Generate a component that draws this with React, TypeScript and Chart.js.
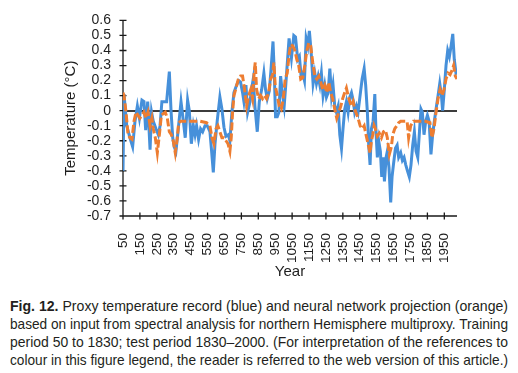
import React, { useEffect, useLayoutEffect, useRef } from 'react';
import { Chart, registerables } from 'chart.js';

Chart.register(...registerables);

const BLUE_YEARS = [50, 56, 72, 91, 107, 121, 135, 147, 162, 174, 184, 196, 210, 219, 229, 245, 259, 269, 280, 296, 308, 324, 334, 344, 353, 363, 377, 393, 407, 418, 432, 442, 454, 466, 476, 485, 497, 509, 521, 535, 548, 564, 574, 584, 594, 607, 623, 635, 647, 659, 673, 682, 694, 706, 722, 734, 745, 757, 765, 777, 787, 801, 810, 820, 830, 844, 856, 870, 883, 893, 903, 915, 925, 937, 944, 952, 962, 972, 982, 994, 1003, 1013, 1032, 1046, 1060, 1070, 1083, 1093, 1103, 1113, 1123, 1133, 1143, 1152, 1162, 1174, 1184, 1194, 1204, 1214, 1223, 1233, 1243, 1253, 1263, 1273, 1283, 1292, 1302, 1312, 1322, 1332, 1342, 1351, 1361, 1371, 1381, 1391, 1401, 1411, 1420, 1430, 1440, 1454, 1464, 1476, 1485, 1495, 1503, 1511, 1519, 1529, 1539, 1546, 1554, 1562, 1572, 1580, 1588, 1596, 1606, 1613, 1623, 1633, 1641, 1649, 1661, 1671, 1680, 1692, 1702, 1712, 1722, 1732, 1743, 1753, 1763, 1773, 1783, 1793, 1803, 1812, 1820, 1830, 1840, 1850, 1860, 1871, 1881, 1891, 1901, 1913, 1923, 1933, 1940, 1950, 1960, 1970, 1980, 1990, 2000, 2009, 2019, 2025];
const BLUE_TEMPS = [-0.4, 0.11, -0.1, -0.18, -0.24, -0.07, 0.03, -0.05, 0.07, 0.06, -0.13, 0.06, -0.26, -0.01, -0.07, -0.12, -0.16, -0.1, 0.06, 0.06, 0.06, 0.26, 0, -0.18, -0.24, -0.27, -0.12, 0.06, -0.07, -0.18, 0.07, 0, -0.22, -0.1, -0.16, -0.1, -0.19, -0.12, -0.14, -0.1, -0.1, -0.14, -0.27, -0.41, -0.22, -0.07, 0.09, 0.01, -0.11, -0.17, -0.16, -0.2, -0.01, 0.12, 0.17, 0.2, 0.19, 0.12, 0.06, 0.17, -0.01, 0.06, 0.14, 0.21, 0.03, -0.14, 0.06, 0.14, 0.25, 0.14, 0.08, 0.13, 0.27, 0.46, 0.27, -0.04, -0.04, -0.01, 0.23, 0.1, 0.03, 0.18, 0.48, 0.35, 0.5, 0.49, 0.34, 0.36, 0.23, 0.25, 0.2, 0.48, 0.43, 0.53, 0.4, 0.18, 0.25, 0.18, 0.23, 0.17, 0.25, 0.1, 0.17, 0.09, 0.12, 0.28, 0.1, 0.17, 0.03, -0.01, 0.03, -0.16, -0.25, -0.12, 0.01, 0.06, -0.01, 0.09, 0.12, 0.07, -0.01, 0.03, -0.01, 0.12, 0.21, 0.28, 0.17, -0.01, -0.23, -0.36, -0.12, -0.07, 0.11, -0.14, -0.31, -0.2, -0.27, -0.44, -0.31, -0.47, -0.31, -0.27, -0.38, -0.61, -0.44, -0.36, -0.25, -0.23, -0.31, -0.28, -0.33, -0.31, -0.36, -0.4, -0.44, -0.36, -0.23, -0.14, -0.27, -0.31, -0.14, 0.01, -0.01, -0.16, -0.07, -0.03, -0.07, -0.29, -0.16, -0.07, 0.01, 0.1, 0.18, 0.1, 0, 0.14, 0.3, 0.4, 0.36, 0.43, 0.51, 0.34, 0.25, 0.26];

const ORANGE_YEARS = [50, 56, 68, 80, 91, 103, 115, 127, 139, 150, 162, 174, 186, 198, 210, 221, 229, 241, 253, 265, 277, 288, 300, 312, 324, 336, 347, 359, 371, 379, 391, 426, 466, 505, 544, 564, 576, 588, 600, 611, 623, 635, 647, 659, 671, 682, 690, 698, 706, 718, 732, 745, 757, 769, 781, 793, 805, 816, 826, 832, 840, 852, 864, 875, 887, 899, 911, 923, 935, 942, 950, 962, 974, 986, 998, 1009, 1021, 1033, 1042, 1054, 1066, 1078, 1089, 1101, 1113, 1125, 1137, 1148, 1160, 1172, 1184, 1196, 1208, 1219, 1231, 1243, 1255, 1267, 1278, 1290, 1302, 1314, 1326, 1338, 1349, 1361, 1371, 1381, 1391, 1401, 1411, 1420, 1430, 1440, 1452, 1464, 1476, 1487, 1499, 1511, 1519, 1527, 1535, 1542, 1554, 1566, 1578, 1590, 1602, 1613, 1625, 1637, 1645, 1657, 1669, 1680, 1692, 1730, 1739, 1751, 1767, 1838, 1865, 1877, 1889, 1901, 1913, 1925, 1937, 1948, 1960, 1972, 1984, 1996, 2005, 2015, 2025];
const ORANGE_TEMPS = [0.12, 0.1, -0.01, -0.16, -0.18, -0.19, -0.07, -0.01, -0.03, -0.05, -0.03, -0.01, -0.05, -0.01, -0.1, -0.05, -0.12, -0.18, -0.28, -0.16, -0.03, -0.02, -0.01, -0.05, -0.14, -0.16, -0.2, -0.28, -0.18, -0.08, -0.07, -0.07, -0.07, -0.07, -0.08, -0.1, -0.18, -0.22, -0.12, -0.1, -0.14, -0.18, -0.18, -0.2, -0.22, -0.27, -0.18, -0.01, 0.1, 0.15, 0.21, 0.23, 0.23, 0.14, 0.03, 0.1, 0.14, 0.08, 0.26, 0.32, 0.14, 0.08, 0.1, 0.08, 0.1, 0.08, 0.12, 0.21, 0.24, 0.32, 0.17, 0.1, 0.03, 0.01, 0.08, 0.21, 0.25, 0.38, 0.44, 0.43, 0.4, 0.34, 0.3, 0.21, 0.22, 0.3, 0.4, 0.45, 0.43, 0.32, 0.23, 0.21, 0.23, 0.19, 0.14, 0.17, 0.12, 0.19, 0.12, 0.08, 0.01, -0.05, -0.01, 0.03, 0.08, 0.12, 0.15, 0.1, 0.06, 0.03, 0.06, 0.01, -0.02, -0.05, -0.1, -0.12, -0.1, -0.16, -0.22, -0.28, -0.2, -0.16, -0.1, -0.12, -0.17, -0.15, -0.18, -0.14, -0.13, -0.18, -0.29, -0.24, -0.16, -0.12, -0.1, -0.08, -0.07, -0.07, -0.18, -0.1, -0.07, -0.07, -0.08, -0.18, -0.12, -0.01, 0.08, 0.14, 0.1, 0.14, 0.21, 0.25, 0.24, 0.27, 0.3, 0.23, 0.21];

const X_TICKS = [50, 150, 250, 350, 450, 550, 650, 750, 850, 950, 1050, 1150, 1250, 1350, 1450, 1550, 1650, 1750, 1850, 1950];
const Y_TICKS = [0.6, 0.5, 0.4, 0.3, 0.2, 0.1, 0, -0.1, -0.2, -0.3, -0.4, -0.5, -0.6, -0.7];
const X_MIN = 50;
const X_MAX = 2025;
const Y_MIN = -0.7;
const Y_MAX = 0.6;

const X_TITLE = 'Year';
const Y_TITLE = 'Temperature (°C)';
const CAPTION_BOLD = 'Fig. 12.';
const CAPTION_LINES = [
  ' Proxy temperature record (blue) and neural network projection (orange)',
  'based on input from spectral analysis for northern Hemisphere multiproxy. Training',
  'period 50 to 1830; test period 1830–2000. (For interpretation of the references to',
  'colour in this figure legend, the reader is referred to the web version of this article.)',
];

const BLUE = '#4690DA';
const ORANGE = '#ED7D31';
const TEXT = '#1e1e1e';
const FONT = '"Liberation Sans", Arial, sans-serif';

const axesPlugin = {
  id: 'crossAxes',
  beforeDatasetsDraw(chart: any) {
    const { ctx, chartArea, scales } = chart;
    const x = scales.x;
    const y = scales.y;
    ctx.save();
    ctx.strokeStyle = '#1a1a1a';
    ctx.lineWidth = 1.3;
    ctx.beginPath();
    ctx.moveTo(chartArea.left, chartArea.top);
    ctx.lineTo(chartArea.left, chartArea.bottom);
    ctx.moveTo(chartArea.left, chartArea.bottom);
    ctx.lineTo(chartArea.right, chartArea.bottom);
    y.ticks.forEach((t: any) => {
      const py = y.getPixelForValue(t.value);
      ctx.moveTo(chartArea.left - 3.5, py);
      ctx.lineTo(chartArea.left + 3.5, py);
    });
    x.ticks.forEach((t: any) => {
      const px = x.getPixelForValue(t.value);
      ctx.moveTo(px, chartArea.bottom - 3.5);
      ctx.lineTo(px, chartArea.bottom + 3.5);
    });
    ctx.stroke();
    ctx.restore();
  },
};

function TempChart() {
  const ref = useRef<HTMLCanvasElement | null>(null);
  useEffect(() => {
    if (!ref.current) return;
    const chart = new Chart(ref.current, {
      type: 'line',
      data: {
        datasets: [
          {
            label: 'Proxy',
            data: BLUE_YEARS.map((yr, i) => ({ x: yr, y: BLUE_TEMPS[i] })),
            borderColor: BLUE,
            backgroundColor: BLUE,
            borderWidth: 3,
            pointRadius: 0,
            tension: 0,
            fill: false,
            order: 2,
          },
          {
            label: 'Projection',
            data: ORANGE_YEARS.map((yr, i) => ({ x: yr, y: ORANGE_TEMPS[i] })),
            borderColor: ORANGE,
            backgroundColor: ORANGE,
            borderWidth: 3,
            borderDash: [8, 3],
            pointRadius: 0,
            tension: 0,
            fill: false,
            order: 1,
          },
        ],
      },
      options: {
        animation: false,
        responsive: true,
        maintainAspectRatio: false,
        layout: { padding: { top: 17, right: 61, bottom: 0, left: 0 } },
        plugins: { legend: { display: false }, tooltip: { enabled: false } },
        scales: {
          x: {
            type: 'linear',
            min: X_MIN,
            max: X_MAX,
            afterBuildTicks: (s: any) => {
              s.ticks = X_TICKS.map((v) => ({ value: v }));
            },
            afterFit: (s: any) => {
              s.height = 69;
            },
            grid: { display: false },
            border: { display: false },
            ticks: {
              autoSkip: false,
              minRotation: 90,
              maxRotation: 90,
              padding: 9,
              color: TEXT,
              font: { family: FONT, size: 13.5 },
              callback: (v: any) => String(v),
            },
            title: {
              display: true,
              text: X_TITLE,
              color: TEXT,
              font: { family: FONT, size: 15 },
              padding: { top: 0, bottom: 4 },
            },
          },
          y: {
            type: 'linear',
            min: Y_MIN,
            max: Y_MAX,
            afterBuildTicks: (s: any) => {
              s.ticks = Y_TICKS.map((v) => ({ value: v }));
            },
            afterFit: (s: any) => {
              s.width = 123;
            },
            grid: {
              drawTicks: false,
              color: (c: any) => (c.tick && c.tick.value === 0 ? '#3c3c3c' : 'rgba(0,0,0,0)'),
              lineWidth: 2,
            },
            border: { display: false },
            ticks: {
              autoSkip: false,
              padding: 12,
              color: TEXT,
              font: { family: FONT, size: 14 },
              callback: (v: any) => (v === 0 ? '0' : Number(v).toFixed(1)),
            },
            title: {
              display: true,
              text: Y_TITLE,
              color: TEXT,
              font: { family: FONT, size: 15 },
              padding: { top: 62, bottom: 0 },
            },
          },
        },
      },
      plugins: [axesPlugin],
    } as any);
    return () => chart.destroy();
  }, []);
  return (
    <div style={{ position: 'absolute', left: 0, top: 0, width: 518, height: 285 }}>
      <canvas ref={ref} />
    </div>
  );
}

function Caption() {
  const refs = useRef<(HTMLSpanElement | null)[]>([]);
  useLayoutEffect(() => {
    refs.current.forEach((el) => {
      if (!el) return;
      el.style.transform = 'none';
      const w = el.getBoundingClientRect().width;
      if (w > 0) el.style.transform = `scaleX(${498 / w})`;
    });
  }, []);
  return (
    <div
      style={{
        position: 'absolute',
        left: 10,
        top: 297,
        width: 498,
        fontFamily: FONT,
        fontSize: 14.5,
        lineHeight: '18px',
        color: '#231f20',
      }}
    >
      {CAPTION_LINES.map((line, i) => (
        <div key={i} style={{ height: 18, whiteSpace: 'nowrap' }}>
          <span
            ref={(el) => {
              refs.current[i] = el;
            }}
            style={{ display: 'inline-block', transformOrigin: '0 0', whiteSpace: 'pre' }}
          >
            {i === 0 ? <b>{CAPTION_BOLD}</b> : null}
            {line}
          </span>
        </div>
      ))}
    </div>
  );
}

export default function App() {
  return (
    <div style={{ position: 'absolute', left: 0, top: 0, width: 518, height: 373, background: '#fff', overflow: 'hidden' }}>
      <TempChart />
      <Caption />
    </div>
  );
}
